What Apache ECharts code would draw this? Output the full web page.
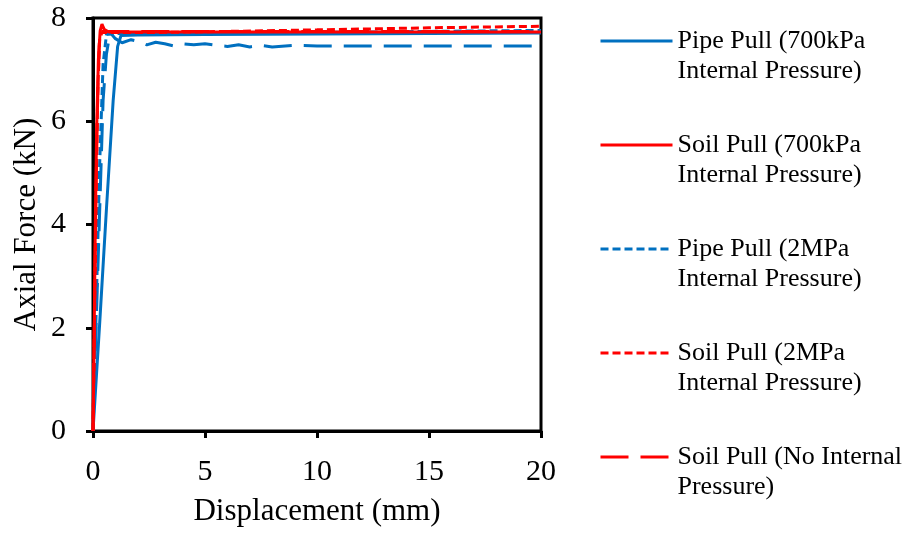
<!DOCTYPE html>
<html>
<head>
<meta charset="utf-8">
<script src="https://cdn.jsdelivr.net/npm/echarts@6/dist/echarts.min.js"></script>
<style>
  html, body { margin: 0; padding: 0; background: #fff; }
  #main { width: 911px; height: 533px; }
</style>
</head>
<body>
<div id="main"></div>
<script>
// series names (legend shows the first five only)
var seriesNames = [
  "Pipe Pull (700kPa\nInternal Pressure)",
  "Soil Pull (700kPa\nInternal Pressure)",
  "Pipe Pull (2MPa\nInternal Pressure)",
  "Soil Pull (2MPa\nInternal Pressure)",
  "Soil Pull (No Internal\nPressure)",
  "Pipe Pull (No Internal\nPressure)"
];

// displacement (mm) / axial force (kN)
var pipe700X = [0, 0.3, 0.6, 0.9, 1.1, 1.25, 2, 5, 10, 15, 20];
var pipe700Y = [0, 2.1, 4.3, 6.4, 7.45, 7.66, 7.67, 7.68, 7.69, 7.7, 7.71];

var soil700X = [0, 0.05, 0.1, 0.16, 0.24, 0.32, 0.4, 0.5, 0.7, 1, 5, 10, 20];
var soil700Y = [0, 1.8, 3.9, 5.8, 7.2, 7.75, 7.88, 7.78, 7.73, 7.73, 7.73, 7.73, 7.73];

var pipe2X = [0, 0.1, 0.2, 0.3, 0.45, 0.6, 1, 3, 6, 10, 15, 20];
var pipe2Y = [0, 1.6, 3.4, 5.2, 7.1, 7.68, 7.7, 7.7, 7.71, 7.72, 7.74, 7.76];

var soil2X = [0, 0.08, 0.15, 0.22, 0.3, 0.4, 1, 3, 6, 10, 15, 20];
var soil2Y = [0, 2.6, 4.9, 6.7, 7.6, 7.72, 7.72, 7.72, 7.74, 7.77, 7.81, 7.84];

var soilNoX = [0, 0.06, 0.12, 0.2, 0.28, 0.36, 1, 5, 10, 20];
var soilNoY = [0, 2.0, 4.2, 6.3, 7.5, 7.74, 7.74, 7.74, 7.74, 7.74];

var pipeNoX = [0, 0.2, 0.45, 0.6, 0.76, 1.0, 1.3, 1.7, 2.0, 2.4, 2.8, 3.2, 3.6, 4.0, 4.5, 5, 5.5, 6, 6.5, 7, 7.5, 8, 9, 10, 12, 14, 16, 18, 20];
var pipeNoY = [0, 2.9, 6.4, 7.3, 7.72, 7.6, 7.52, 7.58, 7.55, 7.48, 7.53, 7.5, 7.46, 7.5, 7.48, 7.5, 7.47, 7.45, 7.48, 7.44, 7.47, 7.44, 7.47, 7.46, 7.46, 7.46, 7.46, 7.46, 7.46];

var xTicks = [0, 5, 10, 15, 20];
var yTicks = [0, 2, 4, 6, 8];

function pairs(xs, ys) {
  return xs.map(function (x, i) { return [x, ys[i]]; });
}

var BLUE = "#0070C0";
var RED = "#FF0000";
var FONT = "Liberation Serif";

function line(name, xs, ys, color, dash) {
  return {
    name: name,
    type: "line",
    data: pairs(xs, ys),
    symbol: "none",
    lineStyle: { color: color, width: 3, type: dash },
    itemStyle: { color: color }
  };
}

var myChart = echarts.init(document.getElementById("main"));
myChart.setOption({
  animation: false,
  backgroundColor: "#fff",
  textStyle: { fontFamily: FONT },
  grid: {
    left: 93, right: 370, top: 18, bottom: 102,
    show: true, borderColor: "#000", borderWidth: 3
  },
  legend: {
    data: seriesNames.slice(0, 5),
    orient: "vertical",
    left: 594, top: -9,
    itemWidth: 72, itemHeight: 10,
    itemGap: 14,
    itemStyle: { opacity: 0 },
    lineStyle: { width: 3 },
    // empty first line so the sample sits beside the first text line
    formatter: function (name) { return "\n" + name; },
    textStyle: { fontFamily: FONT, fontSize: 26, color: "#000", lineHeight: 30 }
  },
  xAxis: {
    type: "value",
    min: xTicks[0], max: xTicks[xTicks.length - 1], interval: 5,
    name: "Displacement (mm)",
    nameLocation: "middle", nameGap: 65,
    nameTextStyle: { fontFamily: FONT, fontSize: 31, color: "#000" },
    axisLine: { show: true, lineStyle: { color: "#000", width: 3 } },
    axisTick: { show: true, length: 7, lineStyle: { color: "#000", width: 3 } },
    axisLabel: { fontFamily: FONT, fontSize: 30, color: "#000", margin: 26 },
    splitLine: { show: false }
  },
  yAxis: {
    type: "value",
    min: yTicks[0], max: yTicks[yTicks.length - 1], interval: 2,
    name: "Axial Force (kN)",
    nameLocation: "middle", nameGap: 51, nameRotate: 90,
    nameTextStyle: { fontFamily: FONT, fontSize: 31, color: "#000" },
    axisLine: { show: true, lineStyle: { color: "#000", width: 3 } },
    axisTick: { show: true, length: 7, lineStyle: { color: "#000", width: 3 } },
    axisLabel: { fontFamily: FONT, fontSize: 30, color: "#000", margin: 27 },
    splitLine: { show: false }
  },
  series: [
    line(seriesNames[5], pipeNoX, pipeNoY, BLUE, [28, 12]),
    line(seriesNames[0], pipe700X, pipe700Y, BLUE, "solid"),
    line(seriesNames[2], pipe2X, pipe2Y, BLUE, [8, 4]),
    line(seriesNames[4], soilNoX, soilNoY, RED, [28, 12]),
    line(seriesNames[1], soil700X, soil700Y, RED, "solid"),
    line(seriesNames[3], soil2X, soil2Y, RED, [8, 4])
  ]
});
</script>
</body>
</html>
